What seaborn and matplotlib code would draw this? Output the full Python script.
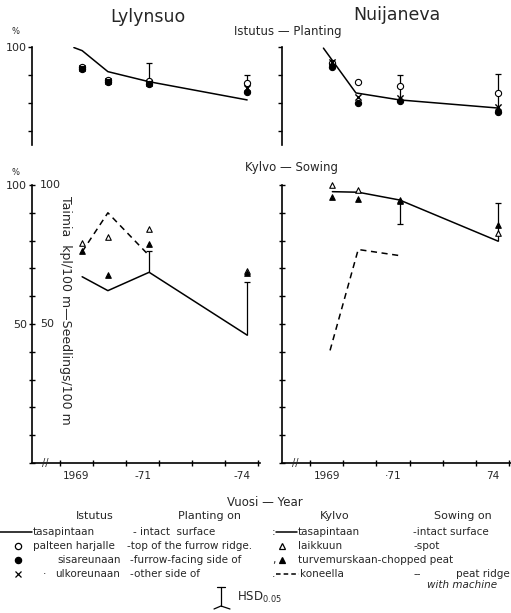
import numpy as np
import pandas as pd
import matplotlib
matplotlib.use("Agg")
import matplotlib.pyplot as plt
import seaborn as sns
from matplotlib.lines import Line2D
from matplotlib.transforms import blended_transform_factory

sns.set_style("white")
plt.rcParams['font.family'] = ['DejaVu Sans']

# ---------------- data ----------------
# measurement times (fraction of year), same for both sites
meas_t = [1969.67, 1970.45, 1971.7, 1974.67]

# Planting (Istutus), % survival
lyl_plant_line_t = [1969.42, 1969.67, 1970.45, 1971.7, 1974.67]
lyl_plant_line = [99.8, 98.7, 91.2, 87.6, 81.1]          # tasapintaan
lyl_plant_ridge = [93.0, 88.2, 87.9, 87.0]               # palteen harjalle (open circle)
lyl_plant_inner = [92.3, 87.6, 86.8, 84.0]               # sisareunaan (filled)
lyl_plant_outer = [92.5, 87.8, 87.2, 85.5]               # ulkoreunaan (x)

nui_plant_line_t = [1969.4, 1970.38, 1971.7, 1974.67]
nui_plant_line = [99.6, 83.6, 81.1, 78.2]
nui_plant_ridge = [94.3, 87.6, 86.0, 83.7]
nui_plant_inner = [93.0, 80.1, 80.8, 76.9]
nui_plant_outer = [94.8, 82.3, 81.7, 78.7]

# Sowing (Kylvo), seedlings / 100 m
lyl_sow_line = [67.0, 62.0, 68.6, 46.0]                   # tasapintaan
lyl_sow_machine_t = [1969.67, 1970.45, 1971.7]
lyl_sow_machine = [76.0, 90.0, 74.6]                      # koneella (dashed)
lyl_sow_spot = [79.0, 81.4, 84.3, 69.0]                   # laikkuun (open tri)
lyl_sow_peat = [76.4, 67.5, 78.6, 68.2]                   # turvemurskaan (filled tri)

nui_sow_line = [97.6, 97.4, 94.6, 79.8]
nui_sow_machine_t = [1969.6, 1970.45, 1971.7]
nui_sow_machine = [40.5, 76.8, 74.6]
nui_sow_spot = [100.0, 98.2, 94.6, 82.7]
nui_sow_peat = [95.8, 94.9, 94.3, 85.7]

# HSD 0.05 bars: time, low, high, cap end
hsd_t = [1971.7, 1974.67]
lyl_plant_hsd = [(86.8, 94.2, 'top'), (84.0, 90.0, 'top')]
nui_plant_hsd = [(80.8, 90.0, 'top'), (78.7, 90.4, 'top')]
lyl_sow_hsd = [(68.6, 76.4, 'top'), (46.0, 65.0, 'top')]
nui_sow_hsd = [(86.1, 94.6, 'bottom'), (79.8, 93.4, 'top')]

year_ticks = [1969, 1970, 1971, 1972, 1973, 1974, 1975]
year_label_pos = [1969.5, 1971.5, 1974.5]
left_year_labels = ["1969", "-71", "-74"]
right_year_labels = ["1969", "\u00b771", "74"]

# ---------------- figure ----------------
W, H = 511, 613
fig = plt.figure(figsize=(W / 100, H / 100), dpi=100)

def fx(x):
    return x / W

def fy(y):
    return 1 - y / H

axTL = fig.add_axes([fx(32), fy(145), 228 / W, 98 / H])
axTR = fig.add_axes([fx(282), fy(145), 229 / W, 98 / H])
axBL = fig.add_axes([fx(32), fy(463), 228 / W, 278 / H])
axBR = fig.add_axes([fx(282), fy(463), 229 / W, 278 / H])

XL = (1968.15, 1975.06)
MS = 20

def style_common(ax):
    ax.set_facecolor('none')
    ax.set_xlim(*XL)
    for s in ['top', 'right']:
        ax.spines[s].set_visible(False)
    ax.spines['left'].set_color('black')
    ax.spines['left'].set_linewidth(1.2)
    ax.set_xlabel('')
    ax.set_ylabel('')

def hsd_bars(ax, bars):
    for t, (lo, hi, cap) in zip(hsd_t, bars):
        ax.vlines(t, lo, hi, color='black', lw=0.9, zorder=2)
        cy = hi if cap == 'top' else lo
        ax.hlines(cy, t - 0.09, t + 0.09, color='black', lw=0.9, zorder=2)

def markers(ax, y, marker, fill):
    df = pd.DataFrame({'t': meas_t, 'v': y})
    if marker == 'x':
        sns.scatterplot(data=df, x='t', y='v', marker='x', color='black', s=MS,
                        linewidth=1.0, ax=ax, clip_on=False, zorder=4)
    else:
        sns.scatterplot(data=df, x='t', y='v', marker=marker,
                        facecolor='black' if fill else 'white', edgecolor='black',
                        s=MS if marker == 'o' else 16, linewidth=0.8, ax=ax,
                        clip_on=False, zorder=4)

def line(ax, t, y, ls='-'):
    df = pd.DataFrame({'t': t, 'v': y})
    sns.lineplot(data=df, x='t', y='v', color='black', lw=1.1, linestyle=ls,
                 estimator=None, sort=False, ax=ax, zorder=3)

# ---- planting panels ----
for ax, lt, lv, ridge, inner, outer, hsd in [
        (axTL, lyl_plant_line_t, lyl_plant_line, lyl_plant_ridge, lyl_plant_inner, lyl_plant_outer, lyl_plant_hsd),
        (axTR, nui_plant_line_t, nui_plant_line, nui_plant_ridge, nui_plant_inner, nui_plant_outer, nui_plant_hsd)]:
    line(ax, lt, lv)
    hsd_bars(ax, hsd)
    markers(ax, ridge, 'o', False)
    markers(ax, inner, 'o', True)
    markers(ax, outer, 'x', None)
    style_common(ax)
    ax.spines['bottom'].set_visible(False)
    ax.set_ylim(65, 100)
    ax.set_yticks([70, 80, 90, 100])
    ax.set_xticks([])
    ax.tick_params(axis='y', direction='out', length=3, width=1, color='black',
                   labelsize=8, pad=1, left=True)

axTL.set_yticklabels(['', '', '', '100'])
axTR.set_yticklabels([])

# ---- sowing panels ----
for ax, lv, mt, mv, spot, peat, hsd, labs in [
        (axBL, lyl_sow_line, lyl_sow_machine_t, lyl_sow_machine, lyl_sow_spot, lyl_sow_peat, lyl_sow_hsd, left_year_labels),
        (axBR, nui_sow_line, nui_sow_machine_t, nui_sow_machine, nui_sow_spot, nui_sow_peat, nui_sow_hsd, right_year_labels)]:
    line(ax, meas_t, lv)
    line(ax, mt, mv, ls=(0, (4, 3)))
    hsd_bars(ax, hsd)
    markers(ax, spot, '^', False)
    markers(ax, peat, '^', True)
    style_common(ax)
    ax.spines['bottom'].set_color('black')
    ax.spines['bottom'].set_linewidth(1.2)
    ax.set_ylim(0, 100)
    ax.set_yticks(np.arange(0, 101, 10))
    ax.tick_params(axis='y', direction='inout', length=5, width=1, color='black',
                   labelsize=8, pad=1, left=True)
    ax.set_xticks(year_ticks)
    ax.set_xticklabels([])
    ax.set_xticks(year_label_pos, minor=True)
    ax.set_xticklabels(labs, minor=True)
    ax.tick_params(axis='x', which='major', direction='inout', length=4, width=1,
                   color='black', bottom=True)
    ax.tick_params(axis='x', which='minor', length=0, labelsize=7.5, pad=6)
    ax.text(1968.55, 0, '//', ha='center', va='center', fontsize=7,
            transform=ax.transData, clip_on=False)

axBL.set_yticklabels(['' if v not in (50, 100) else str(v) for v in range(0, 101, 10)])
axBR.set_yticklabels([])
ytrans = blended_transform_factory(axBL.transAxes, axBL.transData)
for v in (50, 100):
    axBL.text(0.035, v, str(v), transform=ytrans, ha='left', va='center', fontsize=8)

# ---------------- texts ----------------
fig.text(fx(148), fy(17), "Lylynsuo", ha='center', va='center', fontsize=12.5)
fig.text(fx(397), fy(15), "Nuijaneva", ha='center', va='center', fontsize=12.5)
fig.text(fx(288), fy(31), "Istutus \u2014 Planting", ha='center', va='center', fontsize=8.5)
fig.text(fx(291), fy(168), "Kylvo \u2014 Sowing", ha='center', va='center', fontsize=8.5)
fig.text(fx(16), fy(32), "%", ha='center', va='center', fontsize=6)
fig.text(fx(16), fy(172), "%", ha='center', va='center', fontsize=6)
fig.text(fx(65), fy(310), "Taimia  kpl/100 m\u2014Seedlings/100 m", ha='center', va='center',
         rotation=270, fontsize=9)
fig.text(fx(265), fy(502), "Vuosi \u2014 Year", ha='center', va='center', fontsize=8.5)

# ---------------- legend ----------------
LF = 7.5
def t(x, y, s, ha='left', **kw):
    fig.text(fx(x), fy(y), s, ha=ha, va='center', fontsize=kw.pop('fontsize', LF), **kw)

def seg(x0, x1, y, ls='-'):
    fig.add_artist(Line2D([fx(x0), fx(x1)], [fy(y), fy(y)], color='black', lw=1.1, linestyle=ls))

def mk(x, y, m, fill):
    fig.add_artist(Line2D([fx(x)], [fy(y)], marker=m, markersize=4.5 if m != '^' else 4,
                          markerfacecolor=('black' if fill else 'white'), markeredgecolor='black',
                          markeredgewidth=0.9, linestyle='none'))

t(95, 516, "Istutus", ha='center', fontsize=8)
t(210, 516, "Planting on", ha='center', fontsize=8)
t(335, 516, "Kylvo", ha='center', fontsize=8)
t(463, 516, "Sowing on", ha='center', fontsize=8)

seg(0, 32, 532)
t(33, 532, "tasapintaan")
t(133, 532, "- intact  surface")
t(272, 532, ":")
seg(276, 297, 532)
t(298, 532, "tasapintaan")
t(413, 532, "-intact surface")

mk(18, 546, 'o', False)
t(33, 546, "palteen harjalle")
t(127, 546, "-top of the furrow ridge.")
mk(282, 546, '^', False)
t(298, 546, "laikkuun")
t(413, 546, "-spot")

mk(18, 560, 'o', True)
t(57, 560, "sisareunaan")
t(130, 560, "-furrow-facing side of")
t(272, 560, ",")
mk(282, 560, '^', True)
t(298, 560, "turvemurskaan-chopped peat")

mk(18, 574, 'x', False)
t(43, 574, "\u00b7")
t(55, 574, "ulkoreunaan")
t(130, 574, "-other side of")
t(272, 574, ".")
seg(276, 299, 574, ls=(0, (3, 2)))
t(300, 574, "koneella")
t(413, 574, "--")
t(510, 574, "peat ridge", ha='right')
t(497, 585, "with machine", ha='right', style='italic')

# HSD symbol
fig.add_artist(Line2D([fx(221), fx(221)], [fy(587), fy(606)], color='black', lw=0.9))
fig.add_artist(Line2D([fx(217), fx(225)], [fy(587), fy(587)], color='black', lw=0.9))
fig.add_artist(Line2D([fx(214), fx(221), fx(230)], [fy(609), fy(606), fy(609)], color='black', lw=0.9))
t(237, 597, "HSD$_{0.05}$", fontsize=8.5)

fig.savefig("out.png", dpi=100)
